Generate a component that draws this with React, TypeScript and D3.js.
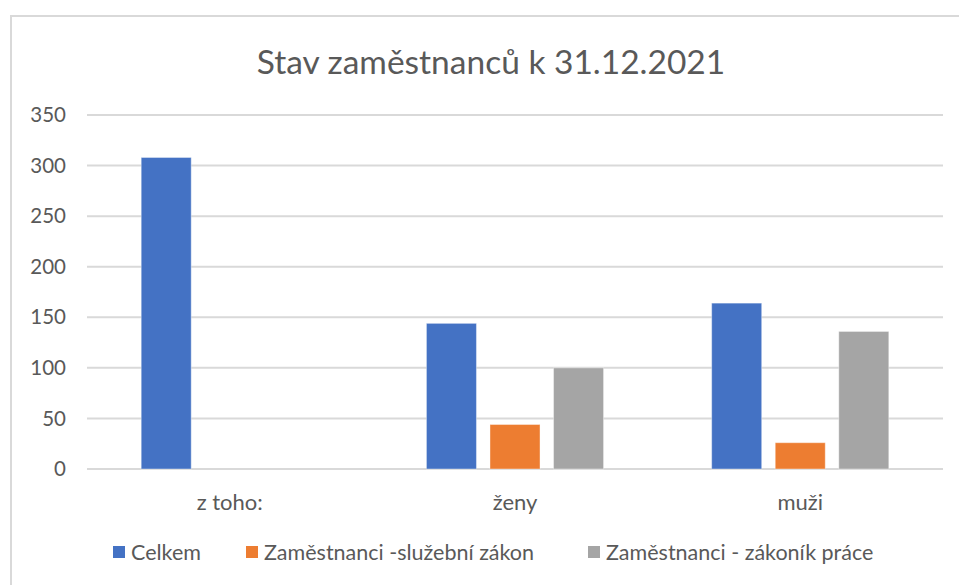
import React, { useRef, useEffect } from 'react';
import * as d3 from 'd3';

const categories = ['z toho:', 'ženy', 'muži'];
const seriesNames = ['Celkem', 'Zaměstnanci -služební zákon', 'Zaměstnanci - zákoník práce'];
const celkem = [308, 144, 164];
const sluzebniZakon = [0, 44, 26];
const zakonikPrace = [0, 100, 136];
const yTicks = [0, 50, 100, 150, 200, 250, 300, 350];
const colors = ['#4472C4', '#ED7D31', '#A5A5A5'];

const App: React.FC = () => {
    const svgRef = useRef<SVGSVGElement | null>(null);

    useEffect(() => {
        if (!svgRef.current) return;
        const width = 959;
        const height = 585;
        const font = 'Lato, "Open Sans", sans-serif';
        const textColor = '#595959';

        const svg = d3.select(svgRef.current);
        svg.selectAll('*').remove();

        // chart border (cropped at right/bottom)
        svg.append('rect')
            .attr('x', 11)
            .attr('y', 16)
            .attr('width', width + 20)
            .attr('height', height + 20)
            .attr('fill', 'white')
            .attr('stroke', '#d9d9d9')
            .attr('stroke-width', 2);

        const plot = { left: 87, right: 943, top: 115, bottom: 469 };

        const y = d3.scaleLinear().domain([0, 350]).range([plot.bottom, plot.top]);
        const x0 = d3.scaleBand<string>()
            .domain(categories)
            .range([plot.left, plot.right])
            .paddingInner(0.379)
            .paddingOuter(0.19);
        const x1 = d3.scaleBand<string>()
            .domain(seriesNames)
            .range([0, x0.bandwidth()])
            .paddingInner(0.213)
            .paddingOuter(0);

        // title
        svg.append('text')
            .attr('x', 491)
            .attr('y', 74)
            .attr('text-anchor', 'middle')
            .attr('font-family', font)
            .attr('font-weight', 400)
            .attr('font-size', 33.5)
            .attr('fill', textColor)
            .text('Stav zaměstnanců k 31.12.2021');

        // gridlines
        svg.append('g')
            .selectAll('line')
            .data(yTicks)
            .join('line')
            .attr('x1', plot.left)
            .attr('x2', plot.right)
            .attr('y1', d => y(d))
            .attr('y2', d => y(d))
            .attr('stroke', '#d9d9d9')
            .attr('stroke-width', 2);

        // y labels
        svg.append('g')
            .selectAll('text')
            .data(yTicks)
            .join('text')
            .attr('x', 66)
            .attr('y', d => y(d))
            .attr('dy', '0.35em')
            .attr('text-anchor', 'end')
            .attr('font-family', font)
            .attr('font-size', 20.5)
            .attr('fill', textColor)
            .text(d => d);

        // bars
        const values = [celkem, sluzebniZakon, zakonikPrace];
        const rows = categories.flatMap((c, ci) =>
            seriesNames.map((s, si) => ({ c, s, si, v: values[si][ci] }))
        );
        svg.append('g')
            .selectAll('rect')
            .data(rows.filter(d => d.v > 0))
            .join('rect')
            .attr('x', d => (x0(d.c) || 0) + (x1(d.s) || 0))
            .attr('y', d => y(d.v))
            .attr('width', x1.bandwidth())
            .attr('height', d => y(0) - y(d.v))
            .attr('fill', d => colors[d.si])
            .attr('stroke', 'white')
            .attr('stroke-opacity', 0.4)
            .attr('stroke-width', 1);

        // category labels
        svg.append('g')
            .selectAll('text')
            .data(categories)
            .join('text')
            .attr('x', d => (x0(d) || 0) + x0.bandwidth() / 2)
            .attr('y', 510)
            .attr('text-anchor', 'middle')
            .attr('font-family', font)
            .attr('font-size', 22)
            .attr('fill', textColor)
            .text(d => d);

        // legend
        const legendX = [113, 246, 588];
        const legend = svg.append('g')
            .selectAll('g')
            .data(seriesNames)
            .join('g')
            .attr('transform', (d, i) => `translate(${legendX[i]},552)`);
        legend.append('rect')
            .attr('x', 0)
            .attr('y', -6)
            .attr('width', 12)
            .attr('height', 12)
            .attr('fill', (d, i) => colors[i]);
        legend.append('text')
            .attr('x', 18)
            .attr('y', 0)
            .attr('dy', '0.35em')
            .attr('font-family', font)
            .attr('font-size', 21.5)
            .attr('fill', textColor)
            .text(d => d);
    }, []);

    return (
        <svg
            ref={svgRef}
            width={959}
            height={585}
            style={{ position: 'absolute', left: 0, top: 0, background: 'white' }}
        />
    );
};

export default App;
